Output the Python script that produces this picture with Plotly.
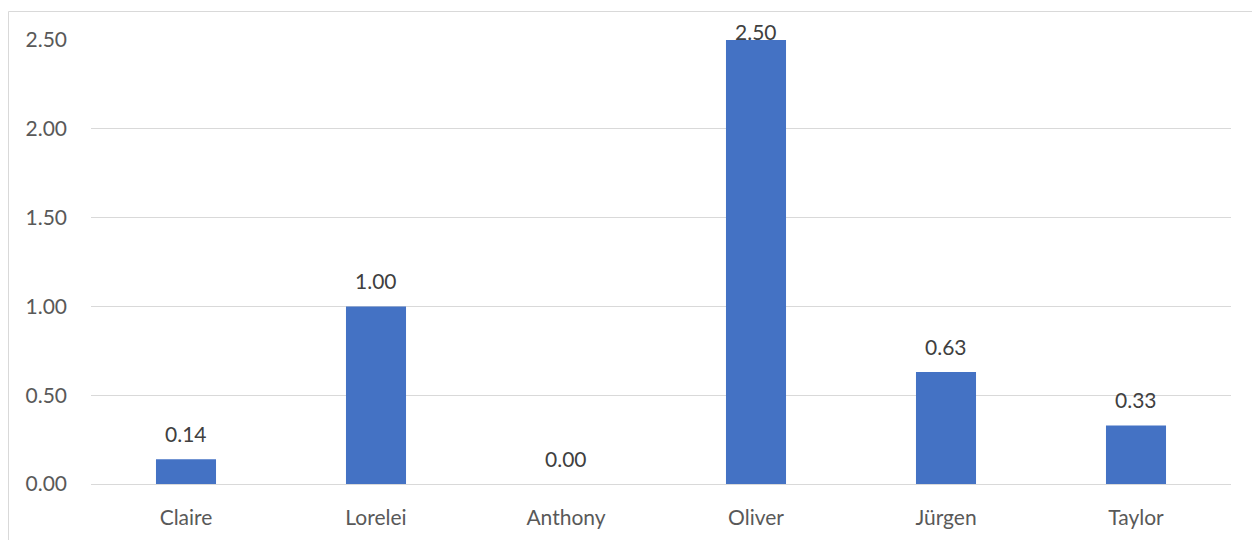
import plotly.graph_objects as go

categories = ["Claire", "Lorelei", "Anthony", "Oliver", "Jürgen", "Taylor"]
values = [0.14, 1.00, 0.00, 2.50, 0.63, 0.33]
y_ticks = [0, 0.5, 1.0, 1.5, 2.0, 2.5]

W, H = 1252, 540
L, R, T, B = 91, 21, 40, 56
plot_h = H - T - B
y_max = 2.5
FONT = "Lato, 'Open Sans', sans-serif"
FS = 21

fig = go.Figure()
fig.add_trace(go.Bar(
    x=categories, y=values,
    marker=dict(color="#4472C4", line=dict(width=0)),
    width=0.316,
    hoverinfo="x+y",
))

# data labels above bars (kept inside the chart near the top)
for c, v in zip(categories, values):
    top_px = T + (1 - v / y_max) * plot_h
    shift = min(25.5, top_px - 31)
    fig.add_annotation(
        x=c, y=v, text=f"{v:.2f}", showarrow=False,
        yanchor="middle", yshift=shift,
        font=dict(family=FONT, size=FS, color="#404040"),
    )

# chart area border
fig.add_shape(
    type="rect", xref="paper", yref="paper",
    x0=(8.5 - L) / (W - L - R), x1=1.2,
    y0=-0.3, y1=(H - B - 11.5) / plot_h,
    line=dict(color="#d9d9d9", width=1), fillcolor="rgba(0,0,0,0)",
    layer="below",
)

fig.update_layout(
    width=W, height=H,
    margin=dict(l=L, r=R, t=T, b=B, pad=0),
    paper_bgcolor="white", plot_bgcolor="white",
    showlegend=False,
    font=dict(family=FONT, size=FS, color="#595959"),
    xaxis=dict(
        showgrid=False, showline=False, zeroline=False,
        ticks="", ticklabelstandoff=19,
        tickfont=dict(family=FONT, size=FS, color="#595959"),
    ),
    yaxis=dict(
        range=[0, y_max], tickvals=y_ticks, tickformat=".2f",
        showgrid=True, gridcolor="#d9d9d9", gridwidth=1,
        zeroline=True, zerolinecolor="#d9d9d9", zerolinewidth=1,
        showline=False, ticks="", ticklabelstandoff=23,
        tickfont=dict(family=FONT, size=FS, color="#595959"),
    ),
)

fig.write_html("out.html")
